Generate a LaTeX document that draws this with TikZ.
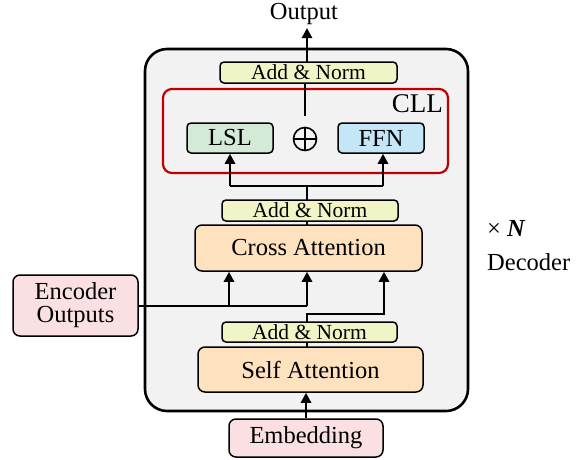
\documentclass[tikz,border=0pt]{standalone}
\usepackage{fontspec}
\setmainfont{Liberation Serif}
\usetikzlibrary{arrows.meta}
\definecolor{outerfill}{HTML}{F2F2F2}
\definecolor{anfill}{HTML}{F0F4C6}
\definecolor{attfill}{HTML}{FEE1BE}
\definecolor{lslfill}{HTML}{D4EAD6}
\definecolor{ffnfill}{HTML}{C5E6F6}
\definecolor{pinkfill}{HTML}{FBE0E3}
\definecolor{cllred}{HTML}{C00000}
\tikzset{
  bigtext/.style={font=\fontsize{24.5}{26}\selectfont},
  anbox/.style={draw, line width=1.5pt, rounded corners=4pt, fill=anfill, inner sep=0pt, font=\fontsize{21.5}{22}\selectfont},
  attbox/.style={draw, line width=1.5pt, rounded corners=7pt, fill=attfill, inner sep=0pt, bigtext},
  pinkbox/.style={draw, line width=1.5pt, rounded corners=7pt, fill=pinkfill, inner sep=0pt, bigtext, align=center},
  smallbox/.style={draw, line width=1.5pt, rounded corners=4pt, inner sep=0pt, bigtext},
  conn/.style={line width=2.5pt},
  arr/.style={line width=2.5pt, -{Triangle[length=10pt,width=10pt]}},
}
\begin{document}
\begin{tikzpicture}[x=1pt,y=-1pt]
\useasboundingbox (0,0) rectangle (579,459);
% outer decoder box
\draw[line width=2.6pt, fill=outerfill, rounded corners=22pt] (145,49) rectangle (468,411);
% CLL box
\node[draw=cllred, line width=2.2pt, rounded corners=9pt, minimum width=285pt, minimum height=84pt, inner sep=0pt] (cll) at (305.5,131) {};
\node[bigtext, font=\fontsize{27}{28}\selectfont, anchor=east, inner sep=0pt] (clltext) at (443,104) {CLL};
% boxes
\node[anbox, minimum width=177pt, minimum height=21pt] (topan) at (308.5,72.5) {Add \& Norm};
\node[smallbox, fill=lslfill, minimum width=86pt, minimum height=30pt] (lsl) at (230,138) {LSL};
\node[smallbox, fill=ffnfill, minimum width=86pt, minimum height=30pt] (ffn) at (381,138) {FFN};
\node[draw, line width=1.6pt, circle, minimum size=23pt, inner sep=0pt] (plus) at (305,139) {};
\draw[line width=1.6pt] (plus.north) -- (plus.south) (plus.west) -- (plus.east);
\node[anbox, minimum width=176pt, minimum height=21pt] (midan) at (310,210.5) {Add \& Norm};
\node[attbox, minimum width=227pt, minimum height=46pt] (cross) at (308.5,248) {Cross Attention};
\node[pinkbox, minimum width=125pt, minimum height=61pt] (enc) at (75.5,305.5) {Encoder\\[-3pt]Outputs};
\node[anbox, minimum width=175pt, minimum height=20pt] (botan) at (309.5,332) {Add \& Norm};
\node[attbox, minimum width=225pt, minimum height=45pt] (self) at (310.5,369.5) {Self Attention};
\node[pinkbox, minimum width=154pt, minimum height=38pt] (emb) at (306,438) {Embedding};
% texts
\node[bigtext, inner sep=0pt] (out) at (304,14) {Output};
\node[bigtext, inner sep=0pt, anchor=west] (xn) at (487,228) {× \textbf{\textit{N}}};
\node[bigtext, inner sep=0pt, anchor=west] (dec) at (487,262) {Decoder};
% coordinates
\coordinate (outtip) at (307,28);
\coordinate (topanT) at (307,62);
\coordinate (plusT) at (305,116);
\coordinate (topanB) at (305,83);
\coordinate (split) at (307,186);
\coordinate (splitL) at (230,186);
\coordinate (splitR) at (383,186);
\coordinate (midanT) at (307,200.5);
\coordinate (midanB) at (307,221);
\coordinate (crossT) at (307,225);
\coordinate (encR) at (307,306);
\coordinate (encL) at (229,306);
\coordinate (botanT) at (307,322);
\coordinate (bend) at (307,314);
\coordinate (bendR) at (384,314);
\coordinate (botanB) at (307,342);
\coordinate (selfT) at (307,347);
% connectors
\draw[arr] (topanT) -- (outtip);
\draw[conn] (plusT) -- (topanB);
\draw[conn] (midanT) -- (split);
\draw[conn] (splitL) -- (splitR);
\draw[arr] (splitL) -- (splitL |- lsl.south);
\draw[arr] (splitR) -- (splitR |- ffn.south);
\draw[conn] (crossT) -- (midanB);
\draw[conn] (enc.east |- encR) -- (encR);
\draw[arr] (encL) -- (encL |- cross.south);
\draw[arr] (encR) -- (encR |- cross.south);
\draw[arr] (botanT) -- (bend) -- (bendR) -- (bendR |- cross.south);
\draw[conn] (selfT) -- (botanB);
\draw[arr] (emb.north) -- (emb.north |- self.south);
\end{tikzpicture}
\end{document}
